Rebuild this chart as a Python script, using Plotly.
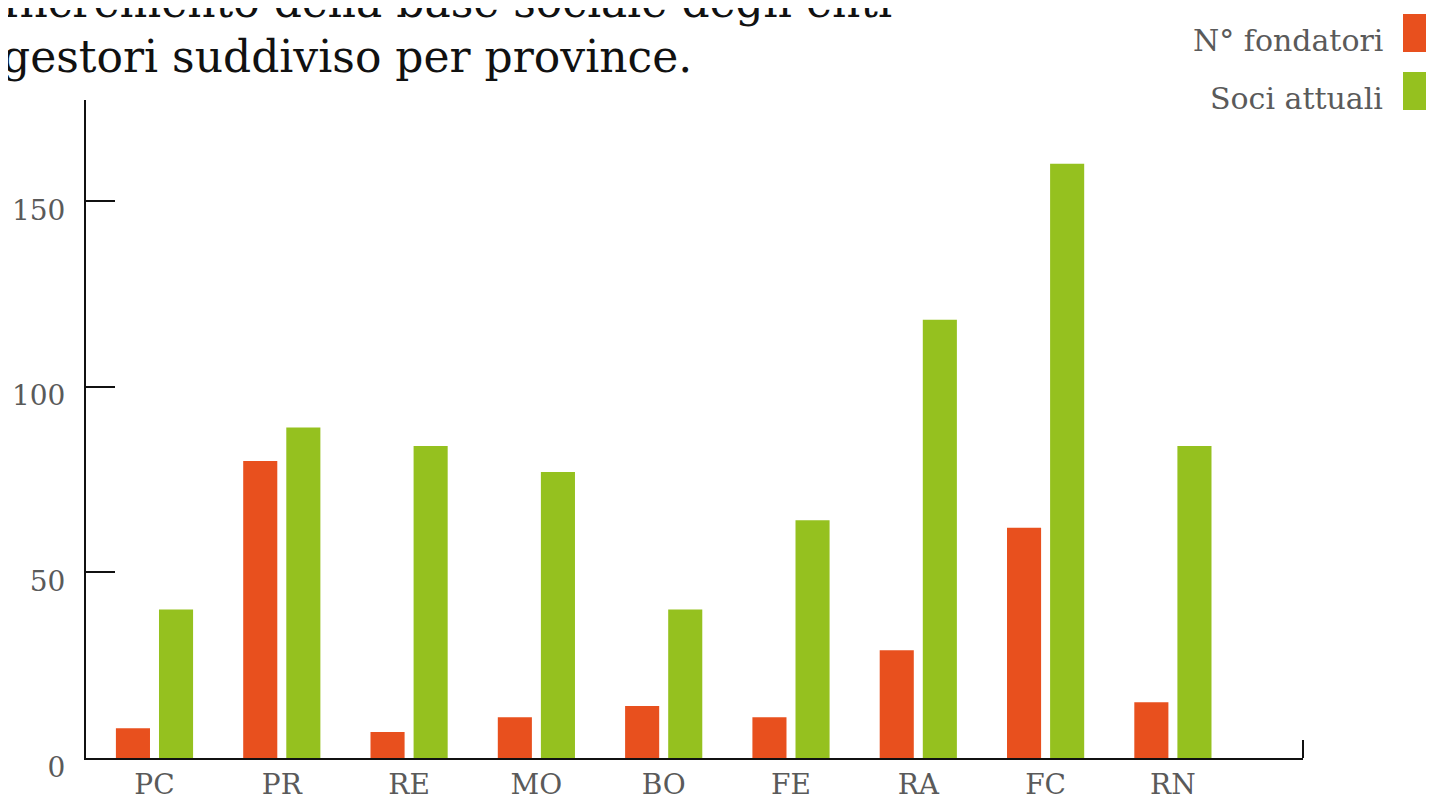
import plotly.graph_objects as go

provinces = ["PC", "PR", "RE", "MO", "BO", "FE", "RA", "FC", "RN"]
fondatori = [8, 80, 7, 11, 14, 11, 29, 62, 15]
soci_attuali = [40, 89, 84, 77, 40, 64, 118, 160, 84]
y_ticks = [0, 50, 100, 150]
title_lines = ["Incremento della base sociale degli enti", "gestori suddiviso per province."]

ORANGE = "#E8501E"
GREEN = "#95C11F"
GRAY = "#5a5a5a"
FONT = "DejaVu Serif, serif"

# page body has an 8px margin; figure coordinates are shifted accordingly
L, T, R, B = 78, 92, 139, 48
W, H = 1434, 798
PW, PH = W - L - R, H - T - B

def px(fx):
    return (fx - L) / PW

def py(fy):
    return 1 - (fy - T) / PH

fig = go.Figure()
fig.add_trace(go.Bar(x=provinces, y=fondatori, name="N° fondatori",
                     marker=dict(color=ORANGE, line=dict(width=0)), showlegend=False))
fig.add_trace(go.Bar(x=provinces, y=soci_attuali, name="Soci attuali",
                     marker=dict(color=GREEN, line=dict(width=0)), showlegend=False))

fig.update_layout(
    width=W, height=H,
    margin=dict(l=L, r=R, t=T, b=B, autoexpand=False),
    paper_bgcolor="white", plot_bgcolor="white",
    barmode="group", bargap=0.323, bargroupgap=0.209,
    font=dict(family=FONT, color=GRAY, size=28),
)

fig.update_xaxes(
    range=[-0.538, 9.022], showgrid=False, showline=True, linecolor="#111111", linewidth=2,
    ticks="", ticklabelstandoff=0, tickfont=dict(size=28, color=GRAY), fixedrange=True,
    automargin=False,
)
fig.update_yaxes(
    range=[0, 177.2], tickvals=y_ticks, showgrid=False, zeroline=False, showline=True,
    linecolor="#111111", linewidth=2, ticks="inside", ticklen=29, tickwidth=2, tickcolor="#111111",
    ticklabelstandoff=13, ticklabelshift=9, tickfont=dict(size=28, color=GRAY),
    automargin=False,
)

# title (first line partly cut at the top, as in the original)
for line, cy in zip(title_lines, [-6, 49]):
    fig.add_annotation(text=line, xref="paper", yref="paper", x=px(-8), y=py(cy),
                       xanchor="left", yanchor="middle", align="left", showarrow=False,
                       font=dict(family=FONT, size=44, color="#111111"))

# end tick at the right of the x axis
fig.add_shape(type="line", xref="paper", yref="y", x0=1, x1=1, y0=0, y1=4.85,
              line=dict(color="#111111", width=2))

# legend with swatches on the right
legend_items = [("N° fondatori", ORANGE, 25, 33), ("Soci attuali", GREEN, 83, 91)]
for label, color, cy, ty in legend_items:
    fig.add_shape(type="rect", xref="paper", yref="paper",
                  x0=px(1395), x1=px(1426), y0=py(cy + 19), y1=py(cy - 19),
                  line=dict(width=0), fillcolor=color)
    fig.add_annotation(text=label, xref="paper", yref="paper",
                       x=px(1377), y=py(ty), xanchor="right", yanchor="middle",
                       showarrow=False, font=dict(family=FONT, size=30, color=GRAY))

fig.write_html("out.html")
